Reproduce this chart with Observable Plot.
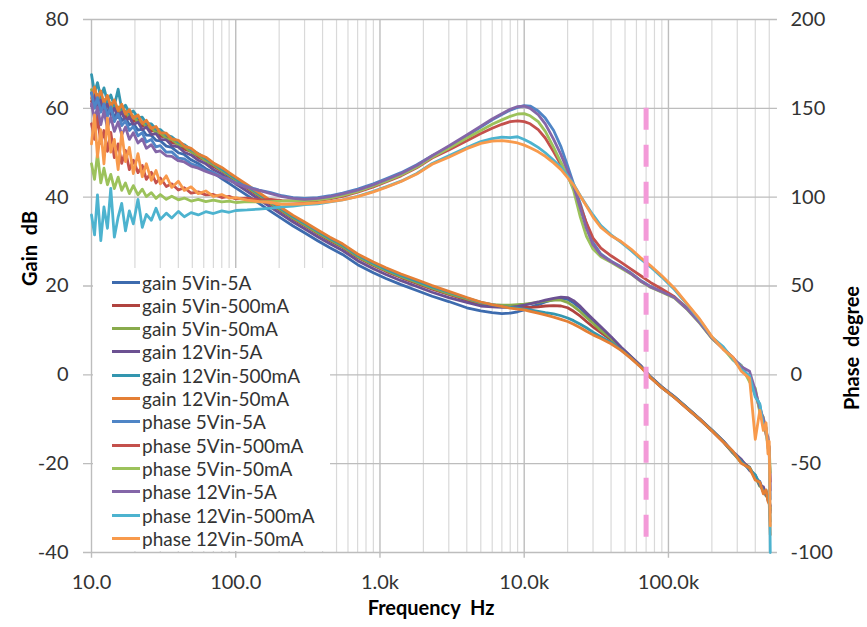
<!DOCTYPE html>
<html><head><meta charset="utf-8">
<script src="https://cdn.jsdelivr.net/npm/d3@7"></script>
<script src="https://cdn.jsdelivr.net/npm/@observablehq/plot@0.6"></script>
<style>
body{margin:0;background:#fff;}
#wrap{position:relative;width:867px;height:627px;font-family:Lato,sans-serif;}
svg text{white-space:pre;}
#legend{position:absolute;left:93px;top:268px;width:237px;height:283px;background:#fff;}
.row{position:absolute;left:0;height:23px;display:flex;align-items:center;font-size:19px;color:#333;white-space:nowrap;}
.sw{width:28px;height:3px;margin-left:19px;margin-right:2px;}
</style></head><body><div id="wrap"></div>
<script>
// Frequency (Hz) shared by all series
const freq = [
 10, 10.5, 11, 11.6, 12.2, 12.9, 13.6, 14.4, 15.3, 16.2,
 17.2, 18.3, 19.5, 21, 22.5, 24, 26, 28, 30, 33,
 36, 40, 44, 49, 55, 62, 70, 80, 90, 100,
 120, 145, 175, 210, 250, 300, 370, 450, 550, 700,
 900, 1100, 1400, 1800, 2300, 3000, 4000, 5000, 6000, 7000,
 8000, 9000, 10000, 11000, 12500, 14000, 16000, 18000, 20000, 22000,
 24500, 27000, 30000, 34000, 40000, 47000, 55000, 65000, 75000, 90000,
 110000, 135000, 165000, 200000, 240000, 280000, 320000, 365000, 400000, 430000,
 455000, 475000, 490000, 500000, 508000];

// Gain (dB)
const gain5V5A = [
 63.5, 61.2, 62.8, 60.1, 61.5, 59.0, 60.2, 58.1, 59.3, 57.2,
 57.9, 56.3, 56.6, 55.1, 55.3, 54.0, 53.9, 52.8, 52.7, 51.5,
 51.2, 50.0, 49.6, 48.4, 47.6, 46.4, 45.5, 44.2, 43.1, 42.1,
 40.4, 38.6, 36.8, 35.1, 33.5, 32.0, 30.2, 28.6, 27.1, 24.8,
 23.0, 21.7, 20.3, 19.0, 17.7, 16.5, 15.1, 14.4, 14.0, 13.8,
 13.9, 14.2, 14.6, 15.2, 15.8, 16.4, 16.9, 17.2, 17.0, 16.2,
 15.0, 13.6, 12.2, 10.5, 8.4, 6.1, 4.0, 1.8, -0.5, -2.8,
 -5.0, -7.5, -10.0, -12.5, -15.0, -17.5, -19.6, -20.8, -23.4, -24.0,
 -26.4, -26.0, -28.3, -27.6, -30.5];
const gain5V500mA = [
 61.5, 63.8, 61.0, 62.9, 60.3, 62.0, 59.6, 61.0, 58.8, 59.9,
 58.0, 58.8, 57.0, 57.6, 56.0, 56.4, 54.9, 55.0, 53.7, 53.6,
 52.3, 52.0, 50.8, 50.3, 49.0, 48.2, 46.9, 45.9, 44.7, 43.7,
 42.0, 40.2, 38.4, 36.7, 35.1, 33.6, 31.8, 30.2, 28.7, 26.4,
 24.6, 23.3, 21.9, 20.6, 19.3, 18.1, 16.8, 15.8, 15.5, 15.4,
 15.3, 15.2, 15.2, 15.2, 15.3, 15.5, 15.6, 15.5, 15.1, 14.3,
 13.2, 12.0, 10.8, 9.5, 7.9, 5.8, 3.9, 1.7, -0.6, -2.9,
 -5.1, -7.6, -10.1, -12.6, -15.1, -17.6, -19.3, -21.0, -23.2, -24.4,
 -26.0, -26.8, -27.9, -28.3, -31.0];
const gain5V50mA = [
 64.2, 62.0, 63.1, 61.2, 62.0, 60.4, 61.2, 59.7, 60.3, 58.9,
 59.4, 57.8, 58.3, 56.9, 57.0, 55.8, 55.7, 54.5, 54.5, 53.2,
 53.0, 51.8, 51.4, 50.2, 49.4, 48.2, 47.3, 46.0, 44.9, 43.9,
 42.2, 40.4, 38.6, 36.9, 35.3, 33.8, 32.0, 30.4, 28.9, 26.6,
 24.8, 23.5, 22.1, 20.8, 19.5, 18.3, 17.1, 16.2, 15.8, 15.7,
 15.7, 15.8, 15.9, 16.1, 16.3, 16.6, 16.8, 16.8, 16.3, 15.4,
 14.2, 12.9, 11.6, 10.0, 8.2, 6.0, 4.0, 1.8, -0.5, -2.8,
 -5.0, -7.5, -10.0, -12.5, -15.0, -17.5, -19.8, -20.9, -23.0, -25.1,
 -25.5, -27.3, -27.0, -28.8, -30.0];
const gain12V5A = [
 60.5, 62.9, 60.2, 62.0, 59.4, 61.2, 58.6, 60.1, 57.9, 59.2,
 57.1, 58.1, 56.3, 56.9, 55.2, 55.8, 54.1, 54.3, 53.0, 52.9,
 51.6, 51.3, 50.1, 49.5, 48.3, 47.5, 46.2, 45.2, 44.0, 43.0,
 41.3, 39.5, 37.7, 36.0, 34.4, 32.9, 31.1, 29.5, 28.0, 25.7,
 23.9, 22.6, 21.2, 19.9, 18.6, 17.4, 16.3, 15.5, 15.3, 15.2,
 15.2, 15.4, 15.7, 16.0, 16.4, 16.8, 17.2, 17.5, 17.4, 16.7,
 15.4, 14.0, 12.5, 10.8, 8.6, 6.2, 4.1, 1.9, -0.4, -2.7,
 -4.9, -7.4, -9.9, -12.4, -14.9, -17.3, -19.0, -21.5, -22.6, -24.9,
 -25.2, -27.1, -27.3, -28.6, -29.5];
const gain12V500mA = [
 67.6, 63.5, 65.8, 62.4, 64.6, 61.5, 63.0, 60.6, 64.3, 59.8,
 60.7, 58.9, 59.4, 57.9, 58.0, 56.6, 56.5, 55.3, 55.2, 54.0,
 53.6, 52.4, 51.8, 50.7, 49.8, 48.7, 47.6, 46.3, 45.2, 44.2,
 42.5, 40.7, 38.9, 37.2, 35.6, 34.1, 32.3, 30.7, 29.2, 26.9,
 25.1, 23.8, 22.4, 21.1, 19.8, 18.6, 17.3, 16.3, 15.8, 15.4,
 15.2, 15.0, 14.8, 14.6, 14.3, 14.0, 13.7, 13.3, 12.8, 12.2,
 11.4, 10.6, 9.6, 8.6, 7.3, 5.6, 3.8, 1.7, -0.5, -2.8,
 -5.0, -7.5, -10.0, -12.5, -15.0, -17.4, -19.5, -21.3, -22.5, -24.6,
 -26.2, -26.3, -28.0, -27.8, -33.0];
const gain12V50mA = [
 62.3, 64.8, 62.1, 63.9, 61.2, 62.9, 60.4, 61.9, 59.5, 60.9,
 58.7, 59.7, 57.8, 58.5, 56.6, 57.3, 55.5, 55.9, 54.5, 54.4,
 53.1, 52.8, 51.5, 51.0, 49.7, 49.0, 47.7, 46.7, 45.5, 44.5,
 42.8, 41.0, 39.2, 37.5, 35.9, 34.4, 32.6, 31.0, 29.5, 27.2,
 25.4, 24.1, 22.7, 21.4, 20.1, 18.8, 17.4, 16.4, 15.8, 15.4,
 15.0, 14.8, 14.6, 14.3, 13.9, 13.5, 13.0, 12.5, 12.0, 11.4,
 10.6, 9.8, 9.0, 8.2, 7.0, 5.5, 3.7, 1.6, -0.6, -2.9,
 -5.1, -7.6, -10.0, -12.6, -15.1, -17.2, -19.9, -21.0, -23.7, -24.2,
 -26.8, -25.9, -28.5, -29.2, -36.0];

// Phase (degree)
const phase5V5A = [
 158.8, 150, 156, 147.8, 152.5, 145.5, 150.8, 142.5, 147, 140.3,
 143, 137.5, 139.8, 134.5, 136.3, 131, 132.5, 128.3, 129, 125.3,
 125.5, 122, 121.5, 118.8, 117.5, 115, 113.8, 111.5, 110, 108,
 106, 104, 102.5, 100.8, 99.8, 99.3, 99.8, 100.8, 102.3, 104.5,
 107.5, 110.3, 113.8, 118.3, 123.3, 128.3, 134.5, 139.5, 143.5, 146.5,
 149, 150.5, 151.5, 151.3, 148.5, 144.5, 137.5, 128.3, 117.5, 107.5,
 96.3, 85, 74.5, 68, 64, 60.8, 57.3, 52.8, 49.8, 46.8,
 43.8, 37.3, 29.5, 21, 15.3, 9, 5.3, -2.5, -11.3, -17,
 -27.5, -30, -38.8, -40.5, -70];
const phase5V500mA = [
 141.3, 132.5, 145.5, 130.3, 137.5, 125.8, 136.5, 122.3, 130, 119,
 126.3, 115.5, 120.8, 113.8, 117.8, 110, 114, 108, 110.8, 106,
 107.5, 104, 105.3, 102.3, 103, 101.3, 101.5, 99.8, 100.5, 99,
 99.5, 98.3, 98.8, 98, 97.8, 97.5, 98, 99, 100.5, 102.8,
 105.8, 108.5, 112, 116.5, 122, 126.5, 131.8, 135.8, 138.8, 141,
 142.5, 143, 142.5, 141.3, 138, 133.3, 125.5, 118, 112, 105,
 95, 85.5, 77, 71.3, 67, 63.3, 59.5, 55.5, 52, 48.3,
 44, 37.3, 29.5, 20.8, 14.5, 9.8, 3.8, -2, -10, -19.8,
 -25, -33.8, -35, -44.5, -60];
const phase5V50mA = [
 118.8, 110, 124.5, 108, 116.3, 107, 112.8, 104.8, 111.3, 103.8,
 108, 102, 106.5, 101.3, 104.5, 100.3, 102.5, 99.3, 101.5, 98.8,
 100.5, 98.5, 99.5, 97.8, 98.8, 97.5, 98.3, 97.3, 97.8, 97,
 97.5, 97.3, 97.5, 97.8, 98, 98, 98.5, 99.5, 101, 103.3,
 106.3, 109, 112.5, 117, 122.5, 127.5, 133.3, 137.5, 141, 143.5,
 145.5, 146.8, 147, 145.8, 142.5, 137, 128, 119.5, 112.5, 103.8,
 88.8, 78, 70.8, 66.5, 63.3, 60, 56.8, 52.3, 49.3, 46.5,
 43.3, 36.8, 29, 20.5, 14.8, 8.3, 5, -4, -7.5, -21,
 -23.8, -32.5, -39.5, -41.3, -55];
const phase12V5A = [
 152.5, 143.8, 150.5, 140.8, 148.5, 139, 145, 137, 142.3, 135,
 139.5, 132.5, 136.3, 130.5, 132.8, 127.5, 129.5, 125.5, 126, 123.3,
 123, 120.5, 119.8, 117.5, 116.3, 114.5, 113, 111.3, 109.5, 107.8,
 105.5, 103.8, 102, 100.3, 99.3, 98.8, 99.3, 100.3, 101.8, 104,
 107, 109.8, 113.3, 117.8, 123.3, 128.8, 135, 140, 144, 147,
 149.5, 151, 151.3, 150, 146.5, 141.3, 132.5, 123.8, 115, 106.3,
 93.8, 82.5, 73.3, 67.5, 63.8, 60.5, 57, 52.5, 49.5, 46.8,
 43.5, 37, 29.3, 20.8, 15, 9.5, 4.5, 2, -8.8, -18.8,
 -24.5, -31.3, -36.5, -42.5, -65];
const phase12V500mA = [
 90, 78.8, 101.3, 75.5, 94.5, 82.5, 105, 77.5, 88.8, 96.5,
 81, 92.3, 85, 98.8, 83, 90.3, 87, 93.8, 87.5, 91,
 88.3, 92, 89, 91.3, 90, 91.8, 90.8, 92.3, 91.5, 92.5,
 92.8, 93.3, 93.8, 94.5, 95, 95.8, 96.3, 97.3, 98.5, 100.5,
 103.3, 105.8, 109, 113.3, 119, 123.3, 128, 131.3, 133, 133.8,
 133.5, 134, 132.5, 130.8, 128, 125, 120.8, 116.8, 112, 107.3,
 100.8, 95.5, 90, 84, 78.8, 74.5, 70, 64.8, 60.8, 55,
 48, 39.5, 30.8, 21.3, 15.8, 8.8, 3, -0.5, -12.5, -16.3,
 -28.8, -29.5, -41.3, -43.8, -100];
const phase12V50mA = [
 130, 146.3, 122.5, 138, 118.8, 144.5, 125.3, 132.5, 115.5, 136.5,
 120, 128, 113.3, 124.5, 111.5, 118.8, 109.5, 115, 107.5, 112,
 105.5, 109, 103.8, 105.8, 102, 103.5, 100.5, 101.5, 99.5, 99.8,
 98.3, 97.5, 97, 96, 96, 96.3, 96.8, 97.5, 98.5, 100.3,
 103, 105.5, 108.8, 113, 118.5, 122.5, 127.3, 130.3, 131.5, 131.8,
 131.3, 130.5, 129.3, 127.8, 125.5, 123, 119.3, 115.5, 111, 106.8,
 100.5, 95, 88.8, 83, 78.3, 75, 70.8, 65.5, 61.5, 55.8,
 48.8, 40, 31.3, 21.5, 14.3, 9.8, 2, -2, -36.3, -20,
 -31.3, -27, -44.5, -37.5, -85];

const gainNames = ["gain 5Vin-5A","gain 5Vin-500mA","gain 5Vin-50mA","gain 12Vin-5A","gain 12Vin-500mA","gain 12Vin-50mA"];
const phaseNames = ["phase 5Vin-5A","phase 5Vin-500mA","phase 5Vin-50mA","phase 12Vin-5A","phase 12Vin-500mA","phase 12Vin-50mA"];
const gainColors = ["#3d6bae","#b0433f","#89ab4c","#6c5192","#3396af","#e47f35"];
const phaseColors = ["#4f85c6","#c4504c","#9cc25b","#8466a8","#4db3cf","#f89a4c"];

const gainTicks = [-40, -20, 0, 20, 40, 60, 80];
const gainTickLabels = ["-40", "-20", "0", "20", "40", "60", "80"];
const phaseTickLabels = ["-100", "-50", "0", "50", "100", "150", "200"];
const phasePerDb = 2.5; // right axis: 200° ↔ 80 dB
const xTicks = [10, 100, 1000, 10000, 100000];
const xTickLabels = ["10.0", "100.0", "1.0k", "10.0k", "100.0k"];
const xDomain = [10, 510000];
const markerFreq = 70000, markerTop = 60, markerBottom = -38;

const gainSeries = [gain5V5A, gain5V500mA, gain5V50mA, gain12V5A, gain12V500mA, gain12V50mA];
const phaseSeries = [phase5V5A, phase5V500mA, phase5V50mA, phase12V5A, phase12V500mA, phase12V50mA];
[...gainSeries, ...phaseSeries].forEach((s, k) => { if (s.length !== freq.length) throw new Error("length mismatch in series " + k + ": " + s.length); });

const gainRows = gainSeries.flatMap((vals, k) => freq.map((f, i) => ({f, v: vals[i], s: gainNames[k]})));
const phaseRows = phaseSeries.flatMap((vals, k) => freq.map((f, i) => ({f, deg: vals[i], s: phaseNames[k]})));

const minorTicks = [];
for (const d of [10, 100, 1000, 10000, 100000]) for (let m = 2; m <= 9; m++) { if (d * m <= xDomain[1]) minorTicks.push(d * m); }

const chart = Plot.plot({
  width: 867, height: 627,
  marginLeft: 91, marginRight: 97, marginTop: 19, marginBottom: 75,
  style: {fontFamily: "Lato, sans-serif", fontSize: "20px", color: "#333", background: "white", overflow: "visible"},
  x: {type: "log", domain: xDomain, label: null},
  y: {domain: [-40, 80], label: null},
  color: {domain: [...gainNames, ...phaseNames], range: [...gainColors, ...phaseColors]},
  marks: [
    Plot.ruleX(minorTicks, {y1: -40, y2: 80, stroke: "#d9d9d9", strokeWidth: 1.2}),
    Plot.ruleX(xTicks, {y1: -41.3, y2: 80, stroke: "#bdbdbd", strokeWidth: 1.4}),
    Plot.ruleY(gainTicks, {x1: 8.8, x2: 570000, stroke: "#bdbdbd", strokeWidth: 1.4}),
    Plot.line(gainRows, {x: "f", y: "v", z: "s", stroke: "s", strokeWidth: 2.8, strokeLinejoin: "round"}),
    Plot.line(phaseRows, {x: "f", y: d => d.deg / phasePerDb, z: "s", stroke: "s", strokeWidth: 2.8, strokeLinejoin: "round"}),
    Plot.ruleX([markerFreq], {y1: markerTop, y2: markerBottom, stroke: "#f39ad8", strokeWidth: 5, strokeDasharray: "22,15"}),
    Plot.axisX({ticks: xTicks, tickFormat: d => xTickLabels[xTicks.indexOf(d)], tickSize: 0, tickPadding: 22, label: null}),
    Plot.axisY({anchor: "left", ticks: gainTicks, tickFormat: d => gainTickLabels[gainTicks.indexOf(d)], tickSize: 0, tickPadding: 23, label: null}),
    Plot.axisY({anchor: "right", ticks: gainTicks, tickFormat: d => phaseTickLabels[gainTicks.indexOf(d)], tickSize: 0, tickPadding: 20, label: null}),
    Plot.text(["Gain  dB"], {frameAnchor: "left", dx: -61, rotate: -90, fontWeight: "bold", fontSize: 20, fill: "#000"}),
    Plot.text(["Phase  degree"], {frameAnchor: "right", dx: 82, rotate: -90, fontWeight: "bold", fontSize: 20, fill: "#000"}),
    Plot.text(["Frequency  Hz"], {frameAnchor: "bottom", dy: 62, fontWeight: "bold", fontSize: 20, fill: "#000"})
  ]
});

const wrap = document.getElementById("wrap");
wrap.appendChild(chart);
const legend = document.createElement("div");
legend.id = "legend";
const names = [...gainNames, ...phaseNames];
const colors = [...gainColors, ...phaseColors];
names.forEach((n, i) => {
  const row = document.createElement("div");
  row.className = "row";
  row.style.top = (282 - 268 + i * 23.3 - 11.5) + "px";
  const sw = document.createElement("div");
  sw.className = "sw";
  sw.style.background = colors[i];
  const t = document.createElement("span");
  t.textContent = n;
  row.appendChild(sw); row.appendChild(t);
  legend.appendChild(row);
});
wrap.appendChild(legend);
</script></body></html>
